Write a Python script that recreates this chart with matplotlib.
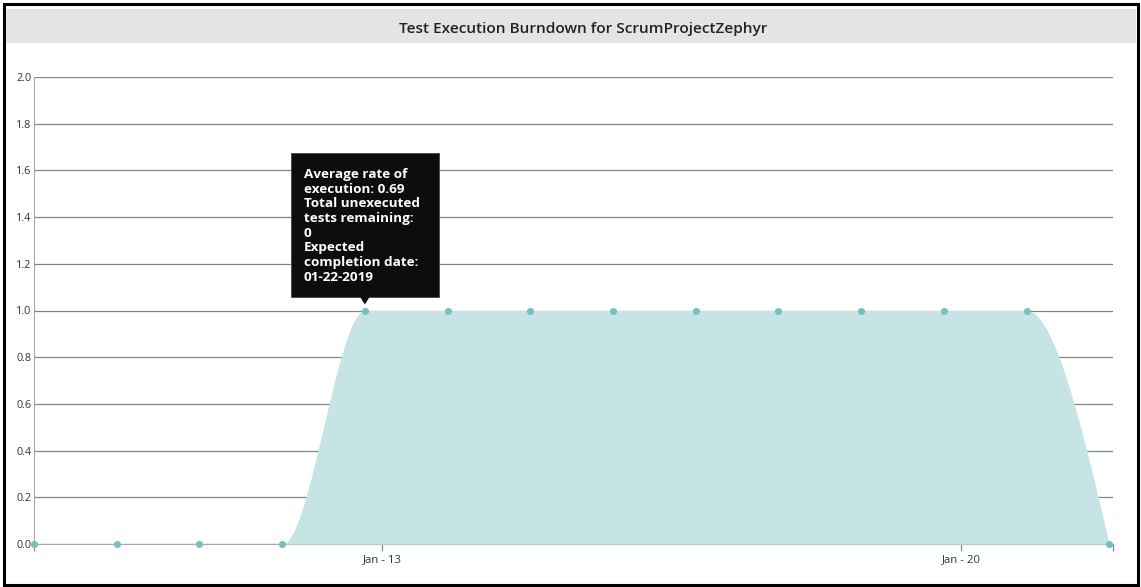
import numpy as np
import matplotlib
matplotlib.use("Agg")
import matplotlib.pyplot as plt
import matplotlib.dates as mdates
from matplotlib.patches import Rectangle, Polygon
from matplotlib.transforms import IdentityTransform
from datetime import datetime

# daily snapshots (local time 19:00)
dates = ["2019-01-08 19:00", "2019-01-09 19:00", "2019-01-10 19:00", "2019-01-11 19:00",
         "2019-01-12 19:00", "2019-01-13 19:00", "2019-01-14 19:00", "2019-01-15 19:00",
         "2019-01-16 19:00", "2019-01-17 19:00", "2019-01-18 19:00", "2019-01-19 19:00",
         "2019-01-20 19:00", "2019-01-21 19:00"]
remaining = [0, 0, 0, 0, 1, 1, 1, 1, 1, 1, 1, 1, 1, 0]

tick_dates = ["2019-01-13", "2019-01-20"]
tick_labels = ["Jan - 13", "Jan - 20"]
y_ticks = [0.0, 0.2, 0.4, 0.6, 0.8, 1.0, 1.2, 1.4, 1.6, 1.8, 2.0]

title = "Test Execution Burndown for ScrumProjectZephyr"
tooltip_idx = 4
tooltip_lines = ["Average rate of", "execution: 0.69", "Total unexecuted",
                 "tests remaining:", "0", "Expected", "completion date:", "01-22-2019"]

FILL = "#c5e4e3"
DOT = "#76c0c1"
FONT = ["Open Sans", "DejaVu Sans"]

x = mdates.date2num([datetime.strptime(d, "%Y-%m-%d %H:%M") for d in dates])
y = np.array(remaining, dtype=float)


# monotone cubic (same tangents as d3.curveMonotoneX)
def monotone_tangents(x, y):
    n = len(x)
    h = np.diff(x)
    s = np.diff(y) / h
    t = np.zeros(n)
    for i in range(1, n - 1):
        p = (s[i - 1] * h[i] + s[i] * h[i - 1]) / (h[i - 1] + h[i])
        t[i] = (np.sign(s[i - 1]) + np.sign(s[i])) * min(abs(s[i - 1]), abs(s[i]), 0.5 * abs(p))
    t[0] = (3 * s[0] - t[1]) / 2
    t[-1] = (3 * s[-1] - t[-2]) / 2
    return t


def monotone_curve(x, y, steps=40):
    t = monotone_tangents(x, y)
    xs, ys = [], []
    for i in range(len(x) - 1):
        h = x[i + 1] - x[i]
        u = np.linspace(0, 1, steps, endpoint=False)
        h00 = 2 * u**3 - 3 * u**2 + 1
        h10 = u**3 - 2 * u**2 + u
        h01 = -2 * u**3 + 3 * u**2
        h11 = u**3 - u**2
        xs.append(x[i] + u * h)
        ys.append(h00 * y[i] + h10 * h * t[i] + h01 * y[i + 1] + h11 * h * t[i + 1])
    xs.append([x[-1]])
    ys.append([y[-1]])
    return np.concatenate(xs), np.concatenate(ys)


W, H = 1141, 587
fig = plt.figure(figsize=(W / 100, H / 100), dpi=100)
fig.patch.set_facecolor("white")

# outer frame and title bar
fig.add_artist(Rectangle((4 / W, 2 / H), 1133.5 / W, 581 / H, transform=fig.transFigure,
                         fill=False, edgecolor="black", linewidth=2.2))
fig.add_artist(Rectangle((6 / W, 1 - 43 / H), 1130 / W, 34 / H, transform=fig.transFigure,
                         facecolor="#e4e4e4", edgecolor="none"))
fig.text(583 / W, 1 - 33.5 / H, title, ha="center", va="baseline", fontsize=11.1,
         fontweight="semibold", color="#222222", family=FONT)

ax = fig.add_axes([34 / W, 1 - 544 / H, (1113 - 34) / W, (544 - 77) / H])
ax.set_ylim(0, 2)
ax.set_xlim(x[0], x[-1] + 0.045)

xs, ys = monotone_curve(x, y)
ax.fill_between(xs, 0, ys, color=FILL, linewidth=0, zorder=2)
ax.scatter(x, y, s=26, color=DOT, zorder=4, clip_on=False, linewidths=0)

# grid and axes
ax.set_yticks(y_ticks)
ax.set_yticklabels([f"{v:.1f}" for v in y_ticks])
ax.yaxis.grid(True, color="#848484", linewidth=0.9, zorder=1)
ax.set_axisbelow(True)
for side in ["top", "right"]:
    ax.spines[side].set_visible(False)
ax.spines["left"].set_color("#a8a8a8")
ax.spines["bottom"].set_color("#a8a8a8")
ax.spines["left"].set_zorder(3)
ax.spines["bottom"].set_zorder(1)
ax.tick_params(axis="y", length=0, pad=2, labelsize=7.8, labelcolor="#333333")

xlim = ax.get_xlim()
tick_x = mdates.date2num([datetime.strptime(d, "%Y-%m-%d") for d in tick_dates])
ax.set_xticks([xlim[0]] + list(tick_x) + [xlim[1]])
ax.set_xticklabels([""] + tick_labels + [""])
ax.tick_params(axis="x", length=5, width=0.9, color="#8a8a8a", pad=2,
               labelsize=8.2, labelcolor="#333333")
for lab in ax.get_xticklabels() + ax.get_yticklabels():
    lab.set_family(FONT)

# tooltip over the hovered point
fig.canvas.draw()
px, py = ax.transData.transform((x[tooltip_idx], y[tooltip_idx]))
box_w, box_h = 148, 144
fig.add_artist(Rectangle((px - box_w / 2, py + 14), box_w, box_h, transform=IdentityTransform(),
                         facecolor="#0d0d0d", edgecolor="#444444", linewidth=0.6, zorder=10))
fig.add_artist(Polygon([(px - 5, py + 14), (px + 5, py + 14), (px, py + 6)], closed=True,
                       transform=IdentityTransform(), facecolor="#0d0d0d", edgecolor="none", zorder=10))
fig.text((px - 61) / W, (py + 14 + box_h - 15.5) / H, "\n".join(tooltip_lines), ha="left", va="top",
         fontsize=9.7, fontweight="bold", color="white", linespacing=1.17, family=FONT, zorder=11)

fig.savefig("out.png", dpi=100)
